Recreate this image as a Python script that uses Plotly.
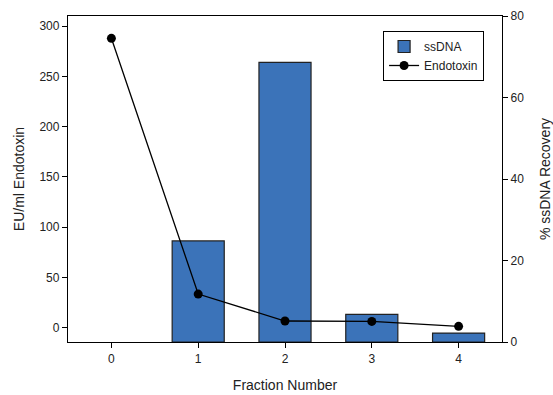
import plotly.graph_objects as go

fractions = [0, 1, 2, 3, 4]
ssdna_fractions = [1, 2, 3, 4]
ssdna_recovery = [24.8, 68.6, 6.8, 2.2]
endotoxin = [288, 33.5, 6.7, 6.3, 1.4]

bar_color = "#3B73B9"
font_family = "Liberation Sans, Arial, sans-serif"

fig = go.Figure()
# Bars on the primary axis (shown on the right), line on the overlaying axis (left) so it draws on top
fig.add_trace(go.Bar(
    x=ssdna_fractions, y=ssdna_recovery, name="ssDNA", yaxis="y",
    width=0.6, marker=dict(color=bar_color, line=dict(color="#222222", width=1.2)),
))
fig.add_trace(go.Scatter(
    x=fractions, y=endotoxin, name="Endotoxin", mode="lines+markers", yaxis="y2",
    line=dict(color="black", width=1.3),
    marker=dict(color="black", size=9),
))

axis_common = dict(
    showgrid=False, zeroline=False, showline=True, linecolor="black", linewidth=1.3,
    ticks="outside", ticklen=5, tickwidth=1.2, tickcolor="black", automargin=False,
    tickfont=dict(size=12, color="#222222", family=font_family),
)

fig.update_layout(
    width=553, height=395,
    margin=dict(l=68, r=51, t=16, b=53),
    paper_bgcolor="white", plot_bgcolor="white",
    font=dict(family=font_family, color="#222222"),
    showlegend=True,
    xaxis=dict(
        range=[-0.5, 4.5], tickvals=fractions, mirror=True,
        title=dict(text="Fraction Number", font=dict(size=14), standoff=15),
        **axis_common,
    ),
    yaxis=dict(
        range=[0, 80], tickvals=[0, 20, 40, 60, 80], side="right",
        title=dict(text="% ssDNA Recovery", font=dict(size=14), standoff=18),
        **axis_common,
    ),
    yaxis2=dict(
        range=[-14.2, 310.2], tickvals=[0, 50, 100, 150, 200, 250, 300],
        overlaying="y", side="left",
        title=dict(text="EU/ml Endotoxin", font=dict(size=14), standoff=11),
        **axis_common,
    ),
    legend=dict(
        x=0.726, y=0.954, xanchor="left", yanchor="top",
        bordercolor="black", borderwidth=1, bgcolor="white",
        font=dict(size=12, color="#222222"),
        tracegroupgap=0, itemwidth=30,
    ),
)

fig.write_html(
    "out.html",
    config={"displayModeBar": False},
    post_script="document.body.style.margin='0';document.body.style.padding='0';",
)
